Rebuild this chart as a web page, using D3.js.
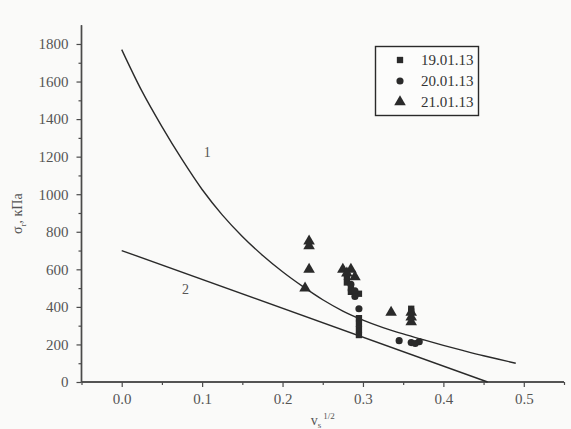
<!DOCTYPE html>
<html><head><meta charset="utf-8">
<script src="https://cdn.jsdelivr.net/npm/d3@7"></script>
<style>
body{margin:0;background:#fafaf9;}
svg{display:block;}
svg text{font-family:'Liberation Serif','DejaVu Serif',serif !important;}
</style></head>
<body><svg id="c" width="571" height="429"></svg>
<script>
// ---- data ----
const xTicks = [0.0, 0.1, 0.2, 0.3, 0.4, 0.5];
const yTicks = [0, 200, 400, 600, 800, 1000, 1200, 1400, 1600, 1800];
const legendLabels = ["19.01.13", "20.01.13", "21.01.13"];
// series 19.01.13 (squares) [v, sigma]
const s19 = [[0.28,560],[0.28,530],[0.285,500],[0.285,480],[0.295,470],[0.295,340],[0.295,310],[0.295,280],[0.295,250],[0.36,390],[0.36,375]];
// series 20.01.13 (circles)
const s20 = [[0.285,520],[0.29,485],[0.29,455],[0.295,390],[0.345,220],[0.36,210],[0.37,215],[0.365,205]];
// series 21.01.13 (triangles)
const s21 = [[0.233,750],[0.233,725],[0.233,600],[0.228,500],[0.275,600],[0.285,600],[0.28,580],[0.29,560],[0.335,370],[0.36,370],[0.36,345],[0.36,320]];
// curve 1
const curve1 = [[0,1770],[0.025,1550],[0.05,1360],[0.075,1185],[0.1,1025],[0.125,890],[0.15,775],[0.175,675],[0.2,587],[0.225,509],[0.25,438],[0.275,378],[0.3,330],[0.325,290],[0.35,256],[0.375,225],[0.4,195],[0.425,167],[0.45,140],[0.49,100]];
// line 2
const line2 = [[0,700],[0.455,0]];
const curveLabels = [{t:"1", v:0.102, s:1200},{t:"2", v:0.075, s:470}];

// ---- drawing ----
const svg = d3.select("#c");
const x = d3.scaleLinear().domain([-0.05,0.55]).range([81.5,564]);
const y = d3.scaleLinear().domain([0,1900]).range([382,25.2]);
const ink = "#2a2a2a", axisCol="#4a4a4a", labCol="#555";

// axes
const xMinor = [-0.05,0.05,0.15,0.25,0.35,0.45,0.55];
const yMinor = d3.range(100,1900,200);
const gx = svg.append("g").attr("transform",`translate(0,${y(0)})`);
gx.call(d3.axisBottom(x).tickValues(xTicks).tickSize(5).tickPadding(6).tickFormat(d3.format(".1f")));
gx.append("g").call(d3.axisBottom(x).tickValues(xMinor).tickSize(3).tickFormat(""));
const gy = svg.append("g").attr("transform",`translate(${x(-0.05)},0)`);
gy.call(d3.axisLeft(y).tickValues(yTicks).tickSize(5).tickPadding(8).tickFormat(d3.format("d")));
gy.append("g").call(d3.axisLeft(y).tickValues(yMinor).tickSize(3).tickFormat(""));
svg.selectAll("g").attr("font-family",null);
svg.selectAll(".domain").attr("stroke",axisCol).attr("stroke-width",1.4);
svg.selectAll(".tick line").attr("stroke",axisCol).attr("stroke-width",1.2);
svg.selectAll(".tick text").attr("fill",labCol).attr("font-size",15);
gy.selectAll(".domain").attr("d",`M0,${y(1900)}V${y(0)}`);
gx.selectAll(".domain").attr("d",`M${x(-0.05)},0H${x(0.55)}`);

// axis titles
const xt = svg.append("text").attr("x",x(0.235)).attr("y",425).attr("fill",labCol).attr("font-size",14);
xt.append("tspan").text("v");
xt.append("tspan").attr("font-size",9).attr("dy",3).text("s");
xt.append("tspan").attr("font-size",9).attr("dy",-9).attr("dx",2).text("1/2");
const yt = svg.append("text").attr("transform","translate(22,234) rotate(-90)").attr("fill",labCol).attr("font-size",14);
yt.append("tspan").text("σ");
yt.append("tspan").attr("font-size",9).attr("dy",4).text("r");
yt.append("tspan").attr("dy",-4).text(", кПа");

// curves
const lineGen = d3.line().x(d=>x(d[0])).y(d=>y(d[1])).curve(d3.curveCatmullRom);
svg.append("path").datum(curve1).attr("d",lineGen).attr("fill","none").attr("stroke",ink).attr("stroke-width",1.4);
svg.append("path").datum(line2).attr("d",d3.line().x(d=>x(d[0])).y(d=>y(d[1]))).attr("fill","none").attr("stroke",ink).attr("stroke-width",1.4);
svg.selectAll(".clab").data(curveLabels).join("text").attr("x",d=>x(d.v)).attr("y",d=>y(d.s)).attr("font-size",14).attr("fill",labCol).text(d=>d.t);

// markers
const sym = [d3.symbolSquare, d3.symbolCircle, d3.symbolTriangle];
const sizes = [40, 40, 58];
[s19,s20,s21].forEach((s,i)=>{
  svg.append("g").selectAll("path").data(s).join("path")
    .attr("transform",d=>`translate(${x(d[0])},${y(d[1])})`)
    .attr("d",d3.symbol().type(sym[i]).size(sizes[i])).attr("fill",ink);
});

// legend
const lg = svg.append("g");
lg.append("rect").attr("x",375.5).attr("y",46.5).attr("width",103).attr("height",69).attr("fill","#fcfcfb").attr("stroke",ink).attr("stroke-width",1.4);
legendLabels.forEach((t,i)=>{
  const yy = 60 + i*21;
  lg.append("path").attr("transform",`translate(400,${yy})`).attr("d",d3.symbol().type(sym[i]).size(sizes[i])).attr("fill",ink);
  lg.append("text").attr("x",421).attr("y",yy+5).attr("font-size",15).attr("fill","#333").text(t);
});
</script></body></html>
